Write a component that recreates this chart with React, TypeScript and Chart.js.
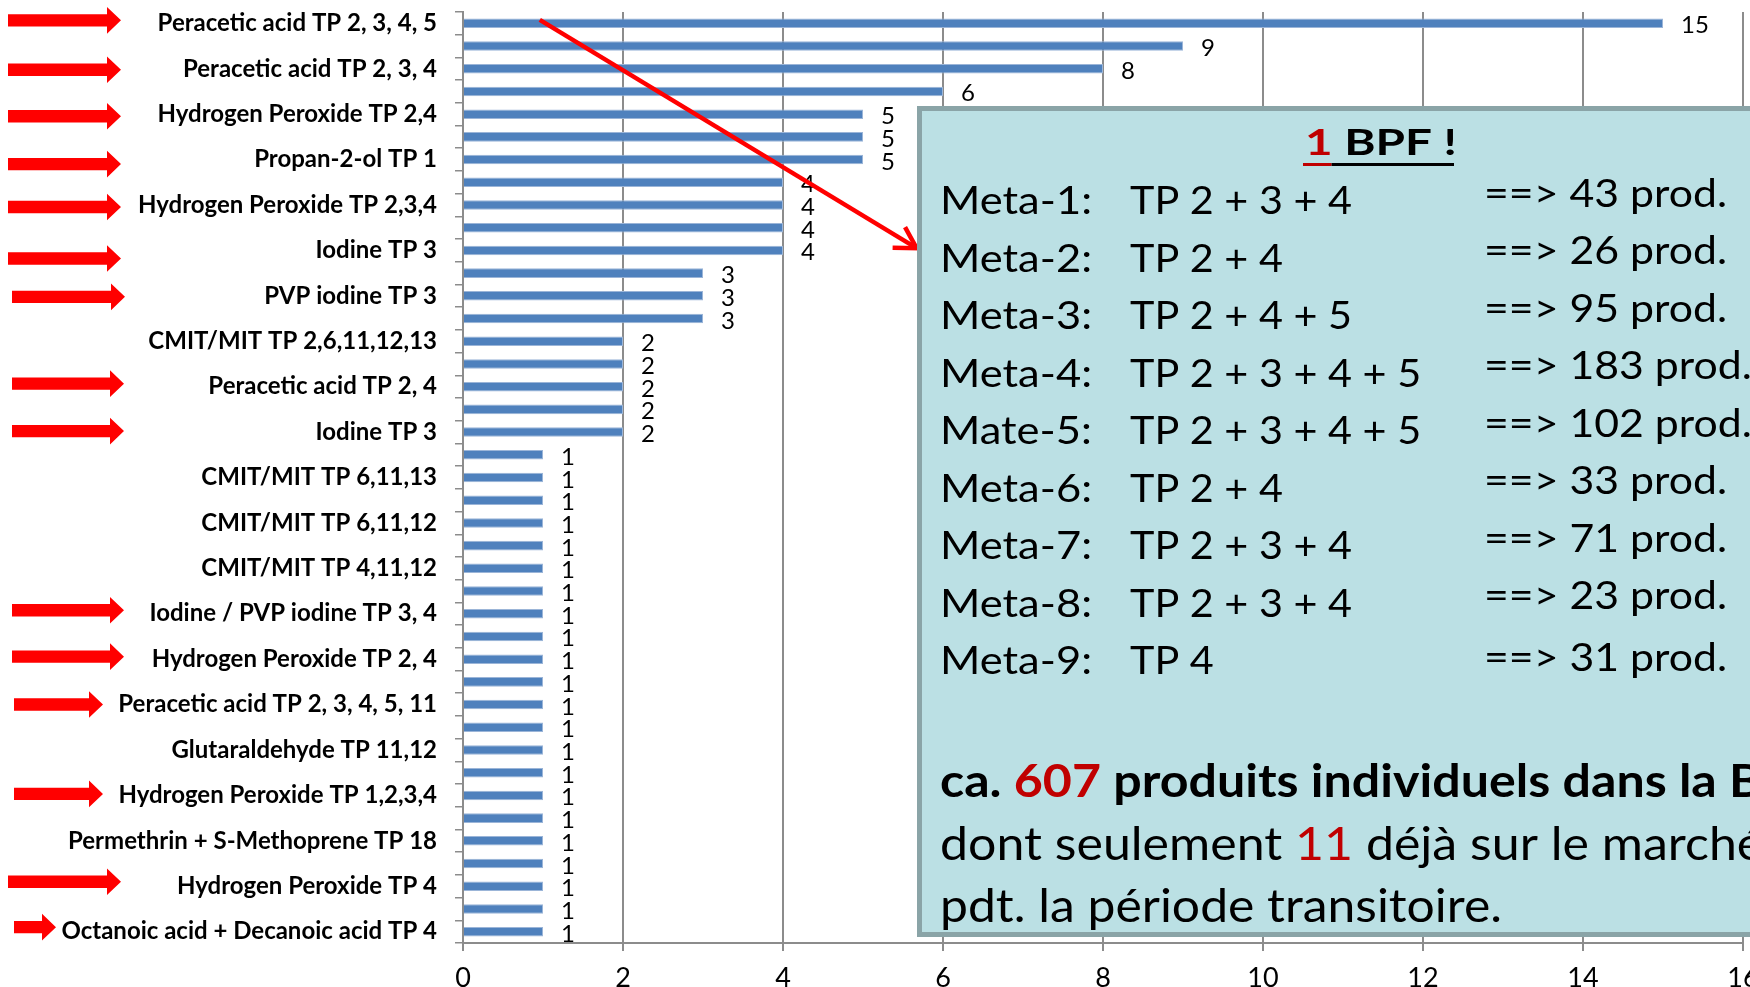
import { useEffect, useRef } from 'react';
import { Chart, registerables } from 'chart.js';

Chart.register(...registerables);

// ---------- DATA ----------
const categories: string[] = [
  'Peracetic acid TP 2, 3, 4, 5', '',
  'Peracetic acid TP 2, 3, 4', '',
  'Hydrogen Peroxide TP 2,4', '',
  'Propan-2-ol TP 1', '',
  'Hydrogen Peroxide TP 2,3,4', '',
  'Iodine TP 3', '',
  'PVP iodine TP 3', '',
  'CMIT/MIT TP 2,6,11,12,13', '',
  'Peracetic acid TP 2, 4', '',
  'Iodine TP 3', '',
  'CMIT/MIT TP 6,11,13', '',
  'CMIT/MIT TP 6,11,12', '',
  'CMIT/MIT TP 4,11,12', '',
  'Iodine / PVP iodine TP 3, 4', '',
  'Hydrogen Peroxide TP 2, 4', '',
  'Peracetic acid TP 2, 3, 4, 5, 11', '',
  'Glutaraldehyde TP 11,12', '',
  'Hydrogen Peroxide TP 1,2,3,4', '',
  'Permethrin + S-Methoprene TP 18', '',
  'Hydrogen Peroxide TP 4', '',
  'Octanoic acid + Decanoic acid TP 4',
];

const counts: number[] = [
  15, 9, 8, 6, 5, 5, 5, 4, 4, 4, 4, 3, 3, 3, 2, 2, 2, 2, 2,
  1, 1, 1, 1, 1, 1, 1, 1, 1, 1, 1, 1, 1, 1, 1, 1, 1, 1, 1, 1, 1, 1,
];

const xMin = 0;
const xMax = 16;
const xStep = 2;

// rows marked with a red arrow on the left
const arrowRows: number[] = [0, 2, 4, 6, 8, 10, 12, 16, 18, 26, 28, 30, 34, 38, 40];

// text box content
const boxTitleRed = '1';
const boxTitleBlack = ' BPF !';
const metaNames: string[] = ['Meta-1:', 'Meta-2:', 'Meta-3:', 'Meta-4:', 'Mate-5:', 'Meta-6:', 'Meta-7:', 'Meta-8:', 'Meta-9:'];
const metaTPs: string[] = ['TP 2 + 3 + 4', 'TP 2 + 4', 'TP 2 + 4 + 5', 'TP 2 + 3 + 4 + 5', 'TP 2 + 3 + 4 + 5', 'TP 2 + 4', 'TP 2 + 3 + 4', 'TP 2 + 3 + 4', 'TP 4'];
const metaProducts: number[] = [43, 26, 95, 183, 102, 33, 71, 23, 31];
const totalProducts = 607;
const existingProducts = 11;

// ---------- LAYOUT / STYLE ----------
const FONT = 'Lato, "Open Sans", "DejaVu Sans", sans-serif';
const RED = '#C00000';
const ARROW_RED = '#FF0000';
const GRID = '#8C8C8C';

// arrow geometry per arrow row: tail x, tip x, vertical nudge
const arrowTail = [8, 8, 8, 8, 8, 8, 12, 12, 12, 12, 12, 14, 14, 8, 14];
const arrowTip = [121, 121, 121, 121, 121, 121, 125, 124, 124, 124, 124, 103, 103, 121, 56];
const arrowNudge = [-3, 1, 2, 4.5, 2, 8, 1, -3, -1, -3.5, -2.5, 0, -1.5, -4.5, -4.5];

const BOX = { x: 917, y: 106, right: 1790, bottom: 937, border: 5 };

const overlayPlugin = {
  id: 'overlay',
  afterDatasetsDraw(chart: any) {
    const ctx = chart.ctx as CanvasRenderingContext2D;
    const xs = chart.scales.x;
    const ys = chart.scales.y;
    const meta = chart.getDatasetMeta(0);

    // value labels
    ctx.save();
    ctx.font = `24px ${FONT}`;
    ctx.fillStyle = '#000';
    ctx.textAlign = 'left';
    ctx.textBaseline = 'alphabetic';
    meta.data.forEach((bar: any, i: number) => {
      ctx.fillText(String(counts[i]), bar.x + 18, bar.y + 10);
    });
    ctx.restore();

    // left red arrows
    ctx.save();
    ctx.fillStyle = ARROW_RED;
    arrowRows.forEach((row, i) => {
      const yc = ys.getPixelForValue(row) + arrowNudge[i];
      const x0 = arrowTail[i];
      const x1 = arrowTip[i];
      const hl = 14, hh = 13.3, sh = 6.2;
      ctx.beginPath();
      ctx.moveTo(x0, yc - sh);
      ctx.lineTo(x1 - hl, yc - sh);
      ctx.lineTo(x1 - hl, yc - hh);
      ctx.lineTo(x1, yc);
      ctx.lineTo(x1 - hl, yc + hh);
      ctx.lineTo(x1 - hl, yc + sh);
      ctx.lineTo(x0, yc + sh);
      ctx.closePath();
      ctx.fill();
    });
    ctx.restore();

    // diagonal red pointer
    const sx = xs.getPixelForValue(0.96), sy = ys.getPixelForValue(-0.15);
    const ex = xs.getPixelForValue(5.67), ey = ys.getPixelForValue(9.9);
    const ang = Math.atan2(ey - sy, ex - sx);
    ctx.save();
    ctx.strokeStyle = ARROW_RED;
    ctx.lineWidth = 4.5;
    ctx.beginPath();
    ctx.moveTo(sx, sy);
    ctx.lineTo(ex, ey);
    ctx.stroke();
    const wl = 24, wa = Math.PI / 6;
    ctx.lineJoin = 'miter';
    ctx.beginPath();
    ctx.moveTo(ex - wl * Math.cos(ang - wa), ey - wl * Math.sin(ang - wa));
    ctx.lineTo(ex, ey);
    ctx.lineTo(ex - wl * Math.cos(ang + wa), ey - wl * Math.sin(ang + wa));
    ctx.stroke();
    ctx.restore();
  },
  afterDraw(chart: any) {
    const ctx = chart.ctx as CanvasRenderingContext2D;
    ctx.save();
    // box
    ctx.fillStyle = '#8AA4A7';
    ctx.fillRect(BOX.x, BOX.y, BOX.right - BOX.x, BOX.bottom - BOX.y);
    ctx.fillStyle = '#BBE0E4';
    ctx.fillRect(BOX.x + BOX.border, BOX.y + BOX.border, BOX.right - BOX.x - 2 * BOX.border, BOX.bottom - BOX.y - 2 * BOX.border);

    ctx.textAlign = 'left';
    ctx.textBaseline = 'alphabetic';

    const fit = (segs: [string, string][], x: number, y: number, font: string, k: number) => {
      ctx.font = font;
      ctx.save();
      ctx.translate(x, y);
      ctx.scale(k, 1);
      let cx = 0;
      const widths: number[] = [];
      for (const [t, c] of segs) {
        ctx.fillStyle = c;
        ctx.fillText(t, cx, 0);
        const w = ctx.measureText(t).width;
        widths.push(w * k);
        cx += w;
      }
      ctx.restore();
      return widths;
    };
    const kFor = (text: string, font: string, target: number) => {
      ctx.font = font;
      return target / ctx.measureText(text).width;
    };

    // title
    const titleFont = `bold 36px ${FONT}`;
    const kt = kFor(boxTitleRed + boxTitleBlack, titleFont, 152);
    const tw = fit([[boxTitleRed, RED], [boxTitleBlack, '#000']], 1305, 155, titleFont, kt);
    ctx.fillStyle = RED;
    ctx.fillRect(1303, 163, tw[0] + 1, 3);
    ctx.fillStyle = '#000';
    ctx.fillRect(1304 + tw[0], 163, tw[1] - 2, 3);

    // meta lines
    const mf = `38px ${FONT}`;
    const k1 = kFor(metaNames[0], mf, 152);
    const k2 = kFor(metaTPs[0], mf, 222);
    const k3 = kFor(`==> ${metaProducts[0]} prod.`, mf, 243);
    metaNames.forEach((name, i) => {
      const base = 214 + i * 57.5;
      const pBase = i === metaNames.length - 1 ? base - 3 : base - 7.5;
      fit([[name, '#000']], 940, base, mf, k1);
      fit([[metaTPs[i], '#000']], 1130, base, mf, k2);
      fit([[`==> ${metaProducts[i]} prod.`, '#000']], 1484, pBase, mf, k3);
    });

    // bottom lines
    const bf = `bold 46px ${FONT}`;
    const rf = `46px ${FONT}`;
    const kb = kFor(`ca. ${totalProducts} produits individuels dans la `, bf, 789);
    fit([['ca. ', '#000'], [String(totalProducts), RED], [' produits individuels dans la BPF', '#000']], 940, 797, bf, kb);
    const kr = kFor('dont seulement ', rf, 355);
    fit([['dont seulement ', '#000'], [String(existingProducts), RED], [' déjà sur le marché', '#000']], 940, 860, rf, kr);
    const kp = kFor('pdt. la période transitoire.', rf, 562);
    fit([['pdt. la période transitoire.', '#000']], 940, 922, rf, kp);
    ctx.restore();
  },
};

export default function App() {
  const ref = useRef<HTMLCanvasElement>(null);
  useEffect(() => {
    document.body.style.margin = '0';
    document.body.style.overflow = 'hidden';
    const chart = new Chart(ref.current as HTMLCanvasElement, {
      type: 'bar',
      data: {
        labels: categories,
        datasets: [
          {
            data: counts,
            backgroundColor: '#4F81BD',
            borderColor: '#9BB5D8',
            borderWidth: 1,
            categoryPercentage: 1,
            barPercentage: 0.42,
          },
        ],
      },
      options: {
        indexAxis: 'y',
        responsive: false,
        animation: false,
        devicePixelRatio: 1,
        layout: { padding: { top: 12, right: 20, left: 0, bottom: 0 } },
        plugins: { legend: { display: false }, tooltip: { enabled: false } },
        scales: {
          x: {
            type: 'linear',
            min: xMin,
            max: xMax,
            ticks: { stepSize: xStep, color: '#000', padding: 11, font: { family: FONT, size: 27 } },
            grid: { color: GRID, lineWidth: 2, tickLength: 8, drawTicks: true },
            border: { color: GRID, width: 2 },
            afterFit: (s: any) => { s.height = 44; s.paddingLeft = 0; s.paddingRight = 0; },
          },
          y: {
            type: 'category',
            ticks: { autoSkip: false, color: '#000', padding: 18, font: { family: FONT, size: 24, weight: 'bold' } },
            grid: { drawOnChartArea: false, offset: true, tickLength: 8, color: GRID, lineWidth: 1.5 },
            border: { color: GRID, width: 2 },
            afterFit: (s: any) => { s.width = 463; s.paddingTop = 0; s.paddingBottom = 0; },
          },
        },
      },
      plugins: [overlayPlugin],
    } as any);
    return () => chart.destroy();
  }, []);
  return (
    <div style={{ position: 'absolute', left: 0, top: 0, width: 1750, height: 987, overflow: 'hidden', background: '#fff' }}>
      <canvas ref={ref} width={1763} height={987} style={{ display: 'block', width: 1763, height: 987 }} />
    </div>
  );
}
